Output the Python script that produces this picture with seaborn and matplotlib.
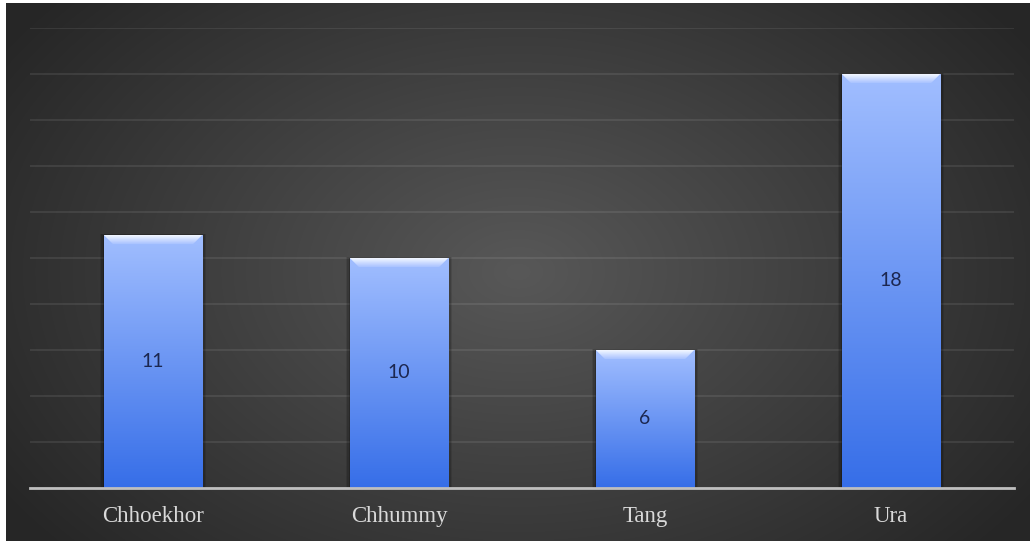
import numpy as np
import pandas as pd
import matplotlib
matplotlib.use("Agg")
import matplotlib.pyplot as plt
from matplotlib.patches import Polygon
import seaborn as sns

# Chart data
categories = ["Chhoekhor", "Chhummy", "Tang", "Ura"]
values = [11, 10, 6, 18]
y_ticks = [0, 2, 4, 6, 8, 10, 12, 14, 16, 18, 20]

df = pd.DataFrame({"place": categories, "count": values})

sns.set_theme(style="white")
plt.rcParams["font.family"] = ["DejaVu Sans"]

W, H = 1030, 541
fig = plt.figure(figsize=(W / 100, H / 100), dpi=100)
fig.patch.set_facecolor("white")

# Dark radial-gradient backdrop
bg = fig.add_axes([6 / W, 0, 1 - 6 / W, 1 - 3 / H])
bg.set_axis_off()
yy, xx = np.mgrid[0:H, 0:W]
r = np.sqrt(((xx - 515) / 620.0) ** 2 + ((yy - 270) / 420.0) ** 2)
r = np.clip(r, 0, 1)
lum = 0.345 * (1 - r) + 0.150 * r
img = np.dstack([lum, lum, lum])
bg.imshow(img, aspect="auto", extent=[0, 1, 0, 1], origin="upper")
bg.set_xlim(0, 1)
bg.set_ylim(0, 1)

ax = fig.add_axes([30 / W, 1 - 488 / H, (1014 - 30) / W, (488 - 28) / H])
ax.set_facecolor("none")

sns.barplot(data=df, x="place", y="count", ax=ax, width=0.4,
            color="#6f9af5", saturation=1, zorder=3)

ax.set_ylim(0, 20)
ax.set_xlim(-0.5, len(categories) - 0.5)
ax.set_yticks(y_ticks)
ax.yaxis.grid(True, color="white", alpha=0.09, linewidth=1.3, zorder=0)
ax.set_axisbelow(True)
ax.tick_params(axis="y", left=False, labelleft=False)
ax.tick_params(axis="x", bottom=False, pad=7)
for s in ["top", "right", "left"]:
    ax.spines[s].set_visible(False)
ax.spines["bottom"].set_color("#bfbfbf")
ax.spines["bottom"].set_linewidth(2)
ax.spines["bottom"].set_zorder(5)
ax.set_xlabel("")
ax.set_ylabel("")
for lbl in ax.get_xticklabels():
    lbl.set_fontfamily("Liberation Serif")
    lbl.set_fontsize(16.5)
    lbl.set_color("#d9d9d9")

# Gradient fill and top bevel for each bar
def vgrad(c_top, c_bot, n=256):
    g = np.linspace(0, 1, n).reshape(-1, 1, 1)
    a = np.array(c_top)[None, None, :]
    b = np.array(c_bot)[None, None, :]
    return a * (1 - g) + b * g

cols = vgrad(np.array([0xa1, 0xbe, 0xff]) / 255, np.array([0x36, 0x6e, 0xe8]) / 255)
bev_cols = vgrad(np.array([0xf4, 0xf8, 0xff]) / 255, np.array([0xa8, 0xc2, 0xff]) / 255)

px_x = 0.4 / 98.0  # data units per pixel horizontally
px_y = 20 / 460.0  # data units per pixel vertically
for bar in list(ax.patches):
    x0, w = bar.get_x(), bar.get_width()
    h = bar.get_height()
    # soft side shadow
    for k, a in [(4, 0.10), (2.5, 0.15), (1.2, 0.2)]:
        ax.add_patch(plt.Rectangle((x0 - k * px_x, 0), w + 2 * k * px_x, h + k * px_y * 0.3,
                                   color="black", alpha=a, zorder=2, lw=0))
    bar.set_facecolor("none")
    bar.set_edgecolor("none")
    im = ax.imshow(cols, extent=[x0, x0 + w, 0, h], aspect="auto",
                   origin="upper", zorder=3.5, interpolation="bilinear")
    im.set_clip_path(bar)
    d = 9 * px_x
    dy = 9 * px_y
    bevel = Polygon([[x0, h], [x0 + w, h], [x0 + w - d, h - dy], [x0 + d, h - dy]],
                    closed=True, facecolor="none", edgecolor="none", zorder=4)
    ax.add_patch(bevel)
    bim = ax.imshow(bev_cols, extent=[x0, x0 + w, h - dy, h], aspect="auto",
                    origin="upper", zorder=4.2, interpolation="bilinear")
    bim.set_clip_path(bevel)

ax.set_xlim(-0.5, len(categories) - 0.5)
ax.set_ylim(0, 20)

labels = ax.bar_label(ax.containers[0], labels=[str(v) for v in values],
                      label_type="center", color="#1c2750", fontsize=14,
                      fontfamily="Lato")
for t in labels:
    t.set_zorder(6)

fig.savefig("out.png", dpi=100, facecolor=fig.get_facecolor())
